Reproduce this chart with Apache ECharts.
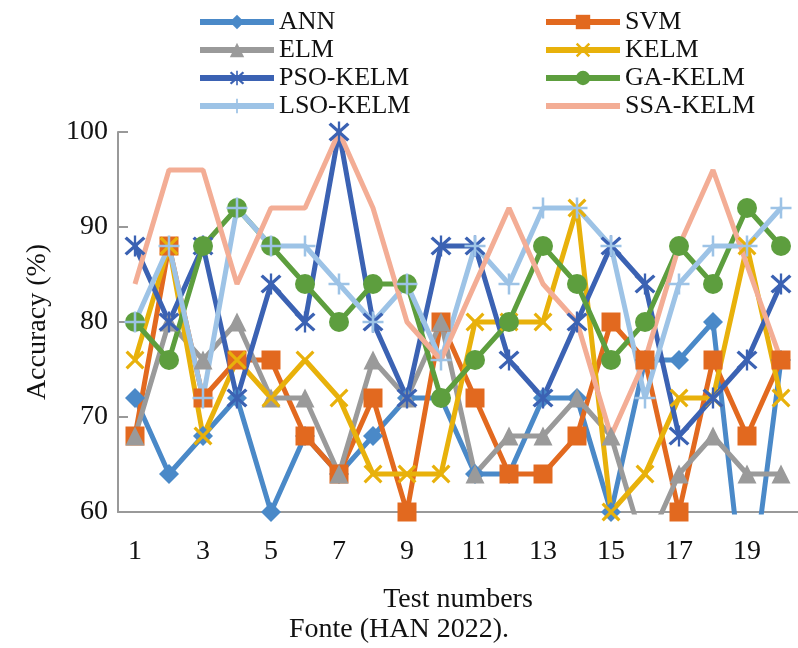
<!DOCTYPE html>
<html>
<head>
<meta charset="utf-8">
<script src="https://cdn.jsdelivr.net/npm/echarts@6/dist/echarts.min.js"></script>
<style>
html, body { margin: 0; padding: 0; background: #fff; overflow: hidden; }
#main { width: 798px; height: 648px; }
</style>
</head>
<body>
<div id="main"></div>
<script>
var chart = echarts.init(document.getElementById('main'));

// test numbers 1..20
var tests = ['1','2','3','4','5','6','7','8','9','10','11','12','13','14','15','16','17','18','19','20'];
var yTicks = [60, 70, 80, 90, 100];

// accuracy (%)
var ann     = [72, 64, 68, 72, 60, 68, 64, 68, 72, 72, 64, 64, 72, 72, 60, 76, 76, 80, 48, 76];
var svm     = [68, 88, 72, 76, 76, 68, 64, 72, 60, 80, 72, 64, 64, 68, 80, 76, 60, 76, 68, 76];
var elm     = [68, 80, 76, 80, 72, 72, 64, 76, 72, 80, 64, 68, 68, 72, 68, 56, 64, 68, 64, 64];
var kelm    = [76, 88, 68, 76, 72, 76, 72, 64, 64, 64, 80, 80, 80, 92, 60, 64, 72, 72, 88, 72];
var psoKelm = [88, 80, 88, 72, 84, 80, 100, 80, 72, 88, 88, 76, 72, 80, 88, 84, 68, 72, 76, 84];
var gaKelm  = [80, 76, 88, 92, 88, 84, 80, 84, 84, 72, 76, 80, 88, 84, 76, 80, 88, 84, 92, 88];
var lsoKelm = [80, 88, 72, 92, 88, 88, 84, 80, 84, 76, 88, 84, 92, 92, 88, 72, 84, 88, 88, 92];
var ssaKelm = [84, 96, 96, 84, 92, 92, 100, 92, 80, 76, 84, 92, 84, 80, 68, 76, 88, 96, 86, 76];

var serif = 'Liberation Serif';

// marker shapes (filled outlines)
var xMark = 'path://M0,0.12 L0.12,0 L1,0.88 L0.88,1 Z M0.88,0 L1,0.12 L0.12,1 L0,0.88 Z';
var plusMark = 'path://M0.44,0 L0.56,0 L0.56,1 L0.44,1 Z M0,0.44 L1,0.44 L1,0.56 L0,0.56 Z';
var starMark = 'path://M0.05,0.15 L0.15,0.05 L0.95,0.85 L0.85,0.95 Z M0.85,0.05 L0.95,0.15 L0.15,0.95 L0.05,0.85 Z M0.45,0 L0.55,0 L0.55,1 L0.45,1 Z';

function line(name, data, color, symbol, size) {
    return {
        name: name,
        type: 'line',
        data: data,
        symbol: symbol,
        symbolSize: size,
        showSymbol: symbol !== 'none',
        lineStyle: { color: color, width: 5 },
        itemStyle: { color: color },
        emphasis: { disabled: true },
        animation: false
    };
}

var legendText = { fontFamily: serif, fontSize: 26, color: '#111', lineHeight: 28 };
var legendBase = {
    orient: 'vertical', top: 3,
    itemWidth: 74, itemHeight: 18, itemGap: 0,
    lineStyle: { width: 6 },
    textStyle: legendText
};

var option = {
    backgroundColor: '#fff',
    legend: [
        Object.assign({ data: ['ANN', 'ELM', 'PSO-KELM', 'LSO-KELM'], left: 192 }, legendBase),
        Object.assign({ data: ['SVM', 'KELM', 'GA-KELM',
            { name: 'SSA-KELM', itemStyle: { opacity: 0 } }], left: 538 }, legendBase)
    ],
    grid: { left: 118, right: -6, top: 132, bottom: 136 },
    xAxis: {
        type: 'category',
        data: tests,
        boundaryGap: true,
        name: 'Test numbers',
        nameLocation: 'middle',
        nameGap: 74,
        nameTextStyle: { fontFamily: serif, fontSize: 28, color: '#111' },
        axisLine: { lineStyle: { color: '#999', width: 2 } },
        axisTick: { inside: true, length: 10, interval: 1, lineStyle: { color: '#999', width: 2 } },
        axisLabel: { interval: 1, margin: 26, fontFamily: serif, fontSize: 28, color: '#111' }
    },
    yAxis: {
        type: 'value',
        min: yTicks[0],
        max: yTicks[yTicks.length - 1],
        interval: 10,
        name: 'Accuracy (%)',
        nameLocation: 'middle',
        nameGap: 66,
        nameTextStyle: { fontFamily: serif, fontSize: 28, color: '#111' },
        splitLine: { show: false },
        axisLine: { show: true, lineStyle: { color: '#999', width: 2 } },
        axisTick: { show: true, inside: true, length: 10, lineStyle: { color: '#999', width: 2 } },
        axisLabel: { margin: 10, fontFamily: serif, fontSize: 28, color: '#111' }
    },
    graphic: [
        {
            type: 'text', left: 'center', top: 616,
            style: { text: 'Fonte (HAN 2022).', font: '28px "Liberation Serif"', fill: '#111' }
        }
    ],
    series: [
        line('ANN', ann, '#4a89c8', 'diamond', 20),
        line('SVM', svm, '#e2691f', 'rect', 19),
        line('ELM', elm, '#9a9a9a', 'triangle', 19),
        line('KELM', kelm, '#e8b10b', xMark, 19),
        line('PSO-KELM', psoKelm, '#3b62b3', starMark, 21),
        line('GA-KELM', gaKelm, '#5d9e3e', 'circle', 20),
        line('LSO-KELM', lsoKelm, '#9dc3e6', plusMark, 21),
        line('SSA-KELM', ssaKelm, '#f3ad95', 'none', 0)
    ]
};
chart.setOption(option);
</script>
</body>
</html>
